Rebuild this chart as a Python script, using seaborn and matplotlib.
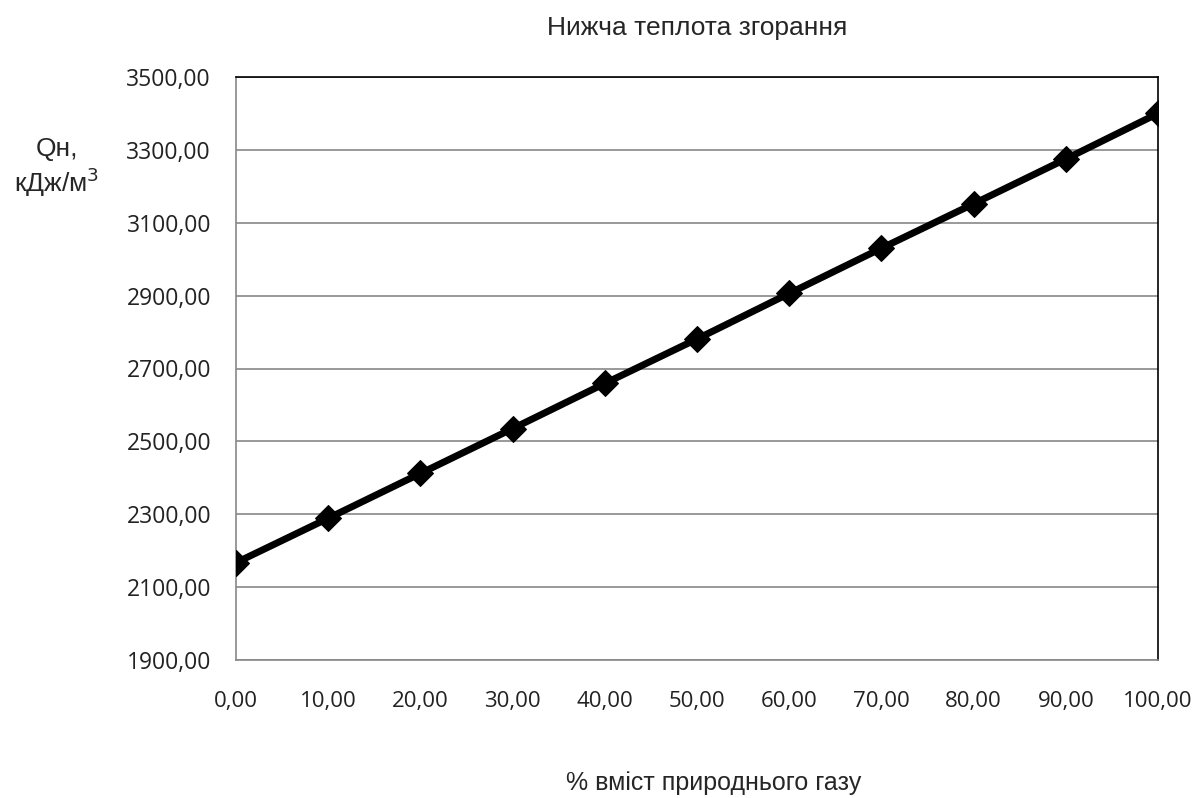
import matplotlib
matplotlib.use("Agg")
import matplotlib.pyplot as plt
import seaborn as sns
import pandas as pd

x_values = [0, 10, 20, 30, 40, 50, 60, 70, 80, 90, 100]
q_values = [2167, 2289, 2412, 2535, 2659, 2781, 2906, 3030, 3152, 3275, 3400]
x_ticks = [0, 10, 20, 30, 40, 50, 60, 70, 80, 90, 100]
y_ticks = [1900, 2100, 2300, 2500, 2700, 2900, 3100, 3300, 3500]

df = pd.DataFrame({"x": x_values, "q": q_values})

sns.set_theme(style="white")
plt.rcParams['font.family'] = ['Liberation Sans', 'DejaVu Sans']

fig = plt.figure(figsize=(11.98, 7.98), dpi=100)
ax = fig.add_axes([236/1198, 1 - 660/798, (1158-236)/1198, (660-77)/798])

sns.lineplot(data=df, x="x", y="q", ax=ax, color="black", linewidth=5,
             marker="D", markersize=13, markeredgecolor="black", zorder=5)

ax.set_xlim(0, 100)
ax.set_ylim(1900, 3500)
ax.set_xticks(x_ticks)
ax.set_yticks(y_ticks)
ax.set_xticklabels([f"{v:.2f}".replace(".", ",") for v in x_ticks], fontsize=16, color="#222222", family=['Open Sans', 'DejaVu Sans'])
ax.set_yticklabels([f"{v:.2f}".replace(".", ",") for v in y_ticks], fontsize=16.5, color="#222222", family=['Open Sans', 'DejaVu Sans'])
ax.tick_params(axis='x', pad=22, length=0)
ax.tick_params(axis='y', pad=18, length=0)
ax.grid(axis='y', color="#888888", linewidth=1.2)
ax.set_axisbelow(True)
for side in ["left", "bottom"]:
    ax.spines[side].set_color("#888888")
    ax.spines[side].set_linewidth(1.2)
for side in ["top", "right"]:
    ax.spines[side].set_color("black")
    ax.spines[side].set_linewidth(1.2)

ax.set_xlabel("")
ax.set_ylabel("")
fig.text(697/1198, 1 - 28/798, "Нижча теплота згорання", ha="center", va="center", fontsize=19)
fig.text(714/1198, 1 - 783/798, "% вміст природнього газу", ha="center", va="center", fontsize=18)
fig.text(57/1198, 1 - 168/798, "Qн,\nкДж/м$^3$", ha="center", va="center", fontsize=19, linespacing=1.15)

fig.savefig("out.png", dpi=100)
